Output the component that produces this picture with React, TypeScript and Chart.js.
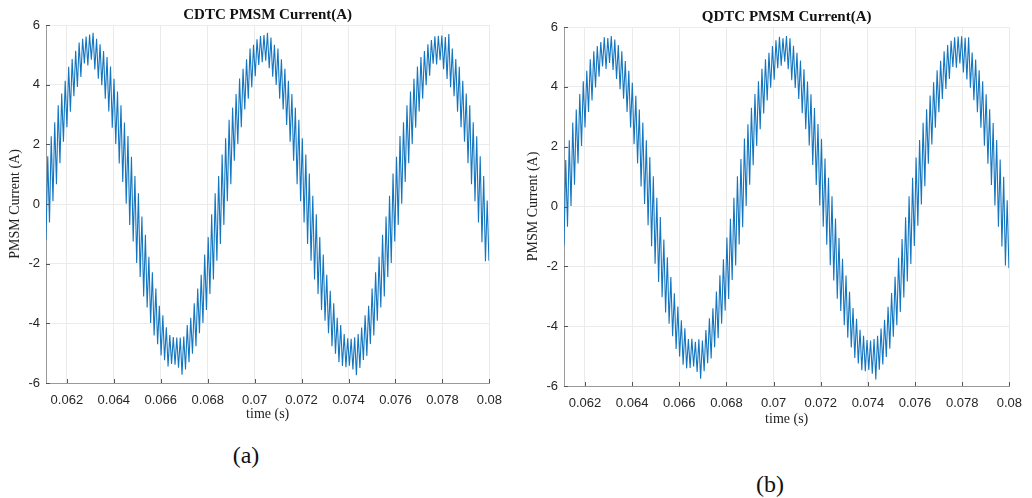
import React, { useEffect, useRef } from "react";
import { Chart, registerables } from "chart.js";

Chart.register(...registerables);

// sampling grid of the recorded current (s)
const sampleStart = 0.06111;
const sampleStep = 0.0000743;
const timeMax = 0.08;

const timeTicks = [0.062, 0.064, 0.066, 0.068, 0.07, 0.072, 0.074, 0.076, 0.078, 0.08];
const currentTicks = [-6, -4, -2, 0, 2, 4, 6];

// CDTC PMSM current (A)
const cdtcCurrent = [
  -1.2, 1.6, -0.62, 2.27, 0.09, 2.74, 0.66, 3.31, 1.37, 3.7,
  2.09, 4.13, 2.57, 4.6, 3.09, 4.86, 3.61, 5.14, 3.92, 5.41,
  4.26, 5.54, 4.71, 5.61, 4.64, 5.68, 4.84, 5.74, 4.51, 5.54,
  4.2, 5.35, 3.98, 5.13, 3.53, 4.93, 3.1, 4.61, 2.56, 4.2,
  2.01, 3.77, 1.36, 3.31, 0.74, 2.73, 0.01, 2.28, -0.7, 1.58,
  -1.26, 0.94, -1.98, 0.36, -2.45, -0.42, -3.1, -1.03, -3.47, -1.77,
  -3.99, -2.29, -4.41, -2.83, -4.7, -3.41, -5.08, -3.73, -5.24, -4.13,
  -5.45, -4.39, -5.36, -4.46, -5.39, -4.48, -5.49, -4.48, -5.72, -4.44,
  -5.55, -4.06, -5.3, -3.81, -5.02, -3.33, -4.77, -2.83, -4.33, -2.37,
  -3.99, -1.69, -3.55, -1.11, -3.02, -0.34, -2.53, 0.36, -1.9, 0.94,
  -1.34, 1.66, -0.7, 2.2, 0.09, 2.82, 0.66, 3.23, 1.45, 3.69,
  2.01, 4.21, 2.57, 4.53, 3.17, 4.85, 3.53, 5.21, 3.91, 5.34,
  4.28, 5.52, 4.66, 5.63, 4.75, 5.66, 4.8, 5.74, 4.55, 5.58,
  4.27, 5.34, 3.99, 5.21, 3.53, 4.85, 3.17, 4.53, 2.65, 4.13,
  2.09, 3.69, 1.45, 3.23, 0.66, 2.82, 0.09, 2.2, -0.62, 1.66,
  -1.34, 1.02, -1.9, 0.28, -2.53, -0.34, -3.02, -1.11, -3.55, -1.69,
  -3.91, -2.37, -4.33, -2.91, -4.77, -3.33, -5.02, -3.81, -5.3, -4.06,
  -5.43, -4.36, -5.47, -4.5, -5.42, -4.52, -5.55, -4.47, -5.74, -4.36,
  -5.5, -4.14, -5.23, -3.73, -5.09, -3.41, -4.69, -2.83, -4.41, -2.29,
  -3.91, -1.77, -3.47, -1.03, -3.1, -0.42, -2.45, 0.28, -1.98, 1.02,
  -1.26, 1.58, -0.7, 2.28, 0.01, 2.74, 0.74, 3.31, 1.37, 3.77,
  2.01, 4.2, 2.56, 4.61, 3.1, 4.93, 3.53, 5.13, 3.98, 5.35,
  4.3, 5.5, 4.7, 5.62, 4.68, 5.64, 4.82, 5.65, 4.52, 5.6,
  4.19, 5.7, 3.91, 5.21, 3.61, 4.86, 3.09, 4.6, 2.57, 4.13,
  2.09, 3.7, 1.37, 3.31, 0.66, 2.74, 0.09, 2.27, -0.62, 1.6,
  -1.28, 0.94, -1.92, 0.12, -1.9,
];

// QDTC PMSM current (A)
const qdtcCurrent = [
  -1.3, 1.55, -0.68, 2.21, 0.02, 2.81, 0.73, 3.24, 1.44, 3.76,
  2.02, 4.19, 2.64, 4.54, 3.16, 4.92, 3.54, 5.19, 3.98, 5.36,
  4.34, 5.5, 4.68, 5.66, 4.6, 5.63, 4.8, 5.7, 4.56, 5.58,
  4.26, 5.4, 3.92, 5.19, 3.6, 4.86, 3.16, 4.54, 2.64, 4.14,
  2.08, 3.7, 1.44, 3.24, 0.67, 2.81, 0.08, 2.21, -0.63, 1.65,
  -1.33, 1.01, -1.91, 0.29, -2.52, -0.35, -3.03, -1.1, -3.54, -1.7,
  -3.92, -2.36, -4.34, -2.9, -4.76, -3.34, -5.01, -3.8, -5.29, -4.07,
  -5.41, -4.43, -5.4, -4.42, -5.35, -4.52, -5.53, -4.44, -5.76, -4.48,
  -5.51, -4.13, -5.24, -3.74, -5.08, -3.4, -4.7, -2.84, -4.4, -2.3,
  -3.92, -1.76, -3.48, -1.04, -3.09, -0.41, -2.46, 0.29, -1.97, 1.01,
  -1.27, 1.59, -0.69, 2.27, 0.02, 2.75, 0.73, 3.3, 1.38, 3.76,
  2.02, 4.19, 2.58, 4.6, 3.11, 4.92, 3.54, 5.14, 3.97, 5.36,
  4.24, 5.56, 4.62, 5.67, 4.71, 5.62, 4.84, 5.7, 4.59, 5.62,
  4.22, 5.37, 3.96, 5.14, 3.59, 4.88, 3.12, 4.59, 2.58, 4.18,
  2.04, 3.75, 1.39, 3.29, 0.72, 2.76, 0.03, 2.26, -0.68, 1.6,
  -1.28, 0.96, -1.96, 0.34, -2.47, -0.4, -3.08, -1.05, -3.49, -1.75,
  -3.97, -2.31, -4.39, -2.85, -4.71, -3.39, -5.06, -3.75, -5.25, -4.12,
  -5.47, -4.32, -5.51, -4.46, -5.46, -4.48, -5.59, -4.43, -5.78, -4.32,
  -5.46, -4.08, -5.28, -3.79, -5.03, -3.35, -4.75, -2.89, -4.35, -2.35,
  -3.97, -1.71, -3.53, -1.09, -3.04, -0.36, -2.51, 0.34, -1.92, 0.96,
  -1.32, 1.64, -0.64, 2.22, 0.07, 2.8, 0.68, 3.25, 1.43, 3.71,
  2.07, 4.15, 2.63, 4.55, 3.15, 4.87, 3.59, 5.19, 3.93, 5.4,
  4.26, 5.54, 4.66, 5.66, 4.64, 5.68, 4.78, 5.69, 4.48, 5.64,
  4.25, 5.66, 3.97, 5.15, 3.55, 4.91, 3.15, 4.55, 2.63, 4.19,
  2.03, 3.75, 1.43, 3.25, 0.72, 2.79, 0.03, 2.22, -0.68, 1.57,
  -1.34, 0.99, -1.97, 0.21, -2.06,
];

const formatTime = (v: number) => String(parseFloat(Number(v).toFixed(3)));

const inwardTicks = {
  id: "inwardTicks",
  afterDraw(chart: any) {
    const { ctx, chartArea, scales } = chart;
    ctx.save();
    ctx.strokeStyle = "#555";
    ctx.lineWidth = 1;
    ctx.beginPath();
    for (const v of timeTicks) {
      const px = Math.round(scales.x.getPixelForValue(v)) + 0.5;
      ctx.moveTo(px, chartArea.bottom);
      ctx.lineTo(px, chartArea.bottom - 4);
    }
    for (const v of currentTicks) {
      const py = Math.round(scales.y.getPixelForValue(v)) + 0.5;
      ctx.moveTo(chartArea.left, py);
      ctx.lineTo(chartArea.left + 4, py);
    }
    ctx.stroke();
    ctx.restore();
  },
};

type PanelProps = {
  title: string;
  values: number[];
  left: number;
  width: number;
  height: number;
  yAxisWidth: number;
  padRight: number;
  titlePadTop: number;
  yTitlePad: number;
  xTitlePad: number;
};

function Panel(p: PanelProps) {
  const ref = useRef<HTMLCanvasElement | null>(null);
  useEffect(() => {
    if (!ref.current) return;
    const points = p.values.map((y, i) => ({ x: sampleStart + i * sampleStep, y }));
    const sans = "'Liberation Sans', Arial, sans-serif";
    const serif = "'Liberation Serif', 'Times New Roman', serif";
    const chart = new Chart(ref.current, {
      type: "line",
      data: {
        datasets: [
          {
            data: points,
            borderColor: "#1476C0",
            borderWidth: 1.1,
            pointRadius: 0,
            tension: 0,
            fill: false,
          },
        ],
      },
      options: {
        animation: false,
        responsive: false,
        devicePixelRatio: 1,
        events: [],
        layout: { padding: { left: 0, right: p.padRight, top: 0, bottom: 0 } },
        plugins: {
          legend: { display: false },
          tooltip: { enabled: false },
          title: {
            display: true,
            text: p.title,
            fullSize: false,
            color: "#111",
            font: { family: serif, size: 15, weight: "bold", lineHeight: 1.2 },
            padding: { top: p.titlePadTop, bottom: 1 },
          },
        },
        scales: {
          x: {
            type: "linear",
            min: sampleStart,
            max: timeMax,
            afterBuildTicks: (s: any) => {
              s.ticks = timeTicks.map((v) => ({ value: v }));
            },
            afterFit: (s: any) => {
              s.height = 47;
            },
            ticks: {
              autoSkip: false,
              maxRotation: 0,
              padding: 10,
              color: "#262626",
              font: { family: sans, size: 13 },
              callback: (v: any) => formatTime(v),
            },
            grid: { color: "#ebebeb", drawTicks: false, lineWidth: 1 },
            border: { color: "#9a9a9a", width: 1 },
            title: {
              display: true,
              text: "time (s)",
              color: "#222",
              font: { family: serif, size: 14, lineHeight: 1.2 },
              padding: { top: 0, bottom: p.xTitlePad },
            },
          },
          y: {
            type: "linear",
            min: -6,
            max: 6,
            afterBuildTicks: (s: any) => {
              s.ticks = currentTicks.map((v) => ({ value: v }));
            },
            afterFit: (s: any) => {
              s.width = p.yAxisWidth;
            },
            ticks: {
              padding: 6,
              color: "#262626",
              font: { family: sans, size: 13 },
            },
            grid: { color: "#ebebeb", drawTicks: false, lineWidth: 1 },
            border: { color: "#9a9a9a", width: 1 },
            title: {
              display: true,
              text: "PMSM Current (A)",
              color: "#222",
              font: { family: serif, size: 14, lineHeight: 1.2 },
              padding: { top: p.yTitlePad, bottom: 0 },
            },
          },
        },
      },
      plugins: [inwardTicks],
    } as any);
    return () => chart.destroy();
  }, []);
  return (
    <canvas
      ref={ref}
      width={p.width}
      height={p.height}
      style={{ position: "absolute", left: p.left, top: 0, width: p.width, height: p.height }}
    />
  );
}

export default function App() {
  const caption: React.CSSProperties = {
    position: "absolute",
    fontFamily: "'Liberation Serif', 'Times New Roman', serif",
    fontSize: 24,
    color: "#111",
    lineHeight: "28px",
    width: 60,
    textAlign: "center",
  };
  return (
    <div
      style={{
        position: "fixed",
        left: 0,
        top: 0,
        width: 1032,
        height: 498,
        background: "#fff",
        overflow: "hidden",
      }}
    >
      <Panel
        title="CDTC PMSM Current(A)"
        values={cdtcCurrent}
        left={0}
        width={512}
        height={430}
        yAxisWidth={46}
        padRight={14}
        titlePadTop={6}
        yTitlePad={6.6}
        xTitlePad={7.6}
      />
      <Panel
        title="QDTC PMSM Current(A)"
        values={qdtcCurrent}
        left={516}
        width={516}
        height={433}
        yAxisWidth={48}
        padRight={15}
        titlePadTop={8}
        yTitlePad={8.6}
        xTitlePad={5.6}
      />
      <div style={{ ...caption, left: 216, top: 441 }}>(a)</div>
      <div style={{ ...caption, left: 740, top: 470 }}>(b)</div>
    </div>
  );
}
